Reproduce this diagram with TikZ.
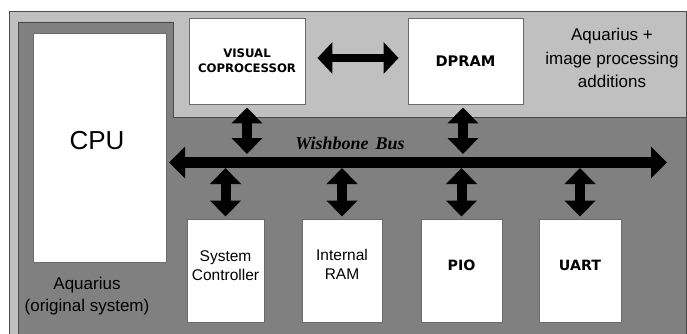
\documentclass[tikz,border=0pt]{standalone}
\usepackage{fontspec}
\setmainfont{Liberation Sans}
\newfontfamily\busfont{Liberation Serif}
\newfontfamily\heavyfont{DejaVu Sans}
\usetikzlibrary{arrows.meta}
\definecolor{paneLight}{HTML}{C0C0C0}
\definecolor{paneDark}{HTML}{808080}
\definecolor{paneEdge}{HTML}{4A4A4A}
\definecolor{boxEdge}{HTML}{6A6A6A}
\begin{document}
\begin{tikzpicture}[x=1pt,y=-1pt,
  block/.style={draw=boxEdge, line width=0.9pt, fill=white, inner sep=0pt},
  heavy/.style={font=\fontsize{#1}{#1}\selectfont\heavyfont\bfseries},
  plain/.style 2 args={font=\fontsize{#1}{#2}\selectfont, align=center},
  vlink/.style={line width=10pt, arrows={Triangle[width=30pt,length=16pt]-Triangle[width=30pt,length=16pt]}},
  hlink/.style={line width=8pt, arrows={Triangle[width=31pt,length=15pt]-Triangle[width=31pt,length=15pt]}},
  busline/.style={line width=11pt, arrows={Triangle[width=31pt,length=16pt]-Triangle[width=31pt,length=16pt]}}]
  \useasboundingbox (0,0) rectangle (687,334);
  \clip (0,0) rectangle (687,334);
  \fill[white] (0,0) rectangle (687,334);

  % outer frame: image processing additions
  \filldraw[fill=paneLight, draw=paneEdge, line width=0.9pt] (9,11) rectangle (686,345);
  % original Aquarius system
  \filldraw[fill=paneDark, draw=paneEdge, line width=0.9pt]
    (18,22) -- (173,22) -- (173,117) -- (686,117) -- (686,345) -- (18,345) -- cycle;

  % blocks
  \node[block, minimum width=133pt, minimum height=229pt] (cpu) at (99.5,147.5) {};
  \node[block, minimum width=116pt, minimum height=86pt, align=center, heavy=11.7] (vc) at (247,61)
    {VISUAL\\[3pt]COPROCESSOR};
  \node[block, minimum width=115pt, minimum height=86pt, heavy=14.6] (dpram) at (465.5,61) {DPRAM};
  \node[block, minimum width=77pt, minimum height=103pt] (sc) at (225.5,270.5) {};
  \node[block, minimum width=80pt, minimum height=103pt] (ram) at (342,270.5) {};
  \node[block, minimum width=81pt, minimum height=103pt] (pio) at (461.5,270.5) {};
  \node[block, minimum width=82pt, minimum height=103pt] (uart) at (580,270.5) {};

  % block captions
  \node[font=\fontsize{26}{30}\selectfont] (cputext) at (97,141) {CPU};
  \node[plain={15.5}{19}] (sctext) at (225.5,265.5) {System\\Controller};
  \node[plain={15.5}{19}] (ramtext) at (342,264) {Internal\\RAM};
  \node[heavy=14.2] (piotext) at (461.5,265) {PIO};
  \node[heavy=14.2] (uarttext) at (580,265) {UART};

  % region captions
  \node[plain={17}{22}] (origtext) at (87,296) {Aquarius\\(original system)};
  \node[plain={17}{23.5}] (addtext) at (612,58) {Aquarius +\\image processing\\additions};

  % Wishbone bus
  \coordinate (busL) at (169,162.5);
  \coordinate (busR) at (667,162.5);
  \coordinate (busTop) at (0,157);
  \coordinate (busBot) at (0,168);
  \draw[busline] (busL) -- (busR);
  \node[font=\fontsize{18}{20}\selectfont\busfont\bfseries\itshape] (bustext) at (350,143)
    {Wishbone\hspace{7pt}Bus};

  % links
  \draw[hlink, shorten <=12pt, shorten >=9pt] ([yshift=3pt]vc.east) -- ([yshift=3pt]dpram.west);
  \draw[vlink, shorten <=3pt, shorten >=3pt] (vc.south) -- (vc.south |- busTop);
  \draw[vlink, shorten <=3pt, shorten >=3pt] ([xshift=-2.5pt]dpram.south) -- ([xshift=-2.5pt]dpram.south |- busTop);
  \foreach \b in {sc,ram,pio,uart}
    \draw[vlink, shorten >=2pt] (\b.north |- busBot) -- (\b.north);
\end{tikzpicture}
\end{document}
